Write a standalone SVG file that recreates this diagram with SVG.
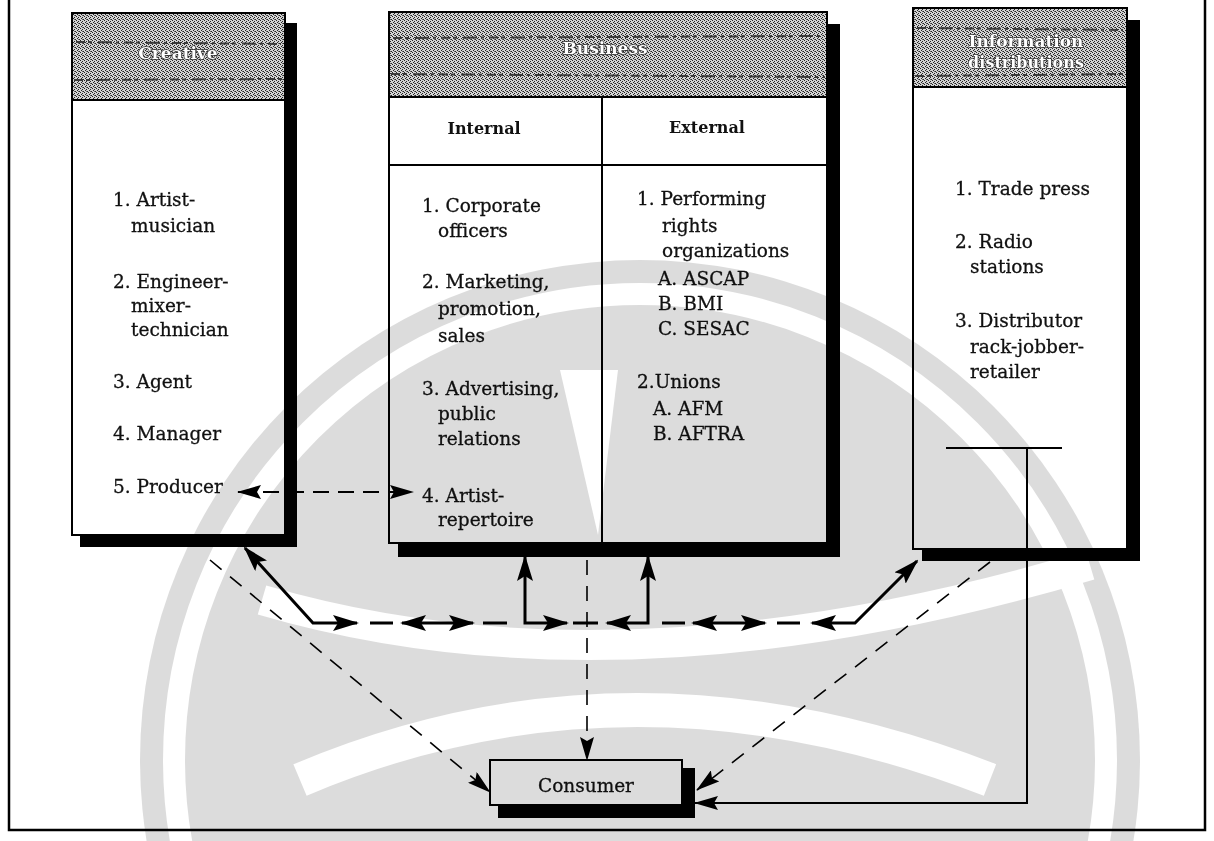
<svg xmlns="http://www.w3.org/2000/svg" width="1214" height="841" viewBox="0 0 1214 841">
<defs>
<pattern id="dith" width="4" height="4" patternUnits="userSpaceOnUse">
<rect width="4" height="4" fill="#d2d2d2"/>
<rect x="0" y="0" width="1" height="1" fill="#222"/>
<rect x="2" y="1" width="1" height="1" fill="#222"/>
<rect x="1" y="2" width="1" height="1" fill="#222"/>
<rect x="3" y="3" width="1" height="1" fill="#222"/>
<rect x="2" y="3" width="1" height="1" fill="#666"/>
</pattern>
<marker id="ah" viewBox="0 0 26 16" refX="24" refY="8" markerWidth="26" markerHeight="16" markerUnits="userSpaceOnUse" orient="auto-start-reverse">
<path d="M0,0 L26,8 L0,16 L5,8 Z" fill="#000" stroke="none"/>
</marker>
<marker id="ah2" viewBox="0 0 24 14" refX="23" refY="7" markerWidth="24" markerHeight="14" markerUnits="userSpaceOnUse" orient="auto-start-reverse">
<path d="M0,0 L24,7 L0,14 L4,7 Z" fill="#000" stroke="none"/>
</marker>
<mask id="wm">
<rect width="1214" height="841" fill="#000"/>
<circle cx="640" cy="760" r="500" fill="#fff"/>
<circle cx="640" cy="760" r="466" fill="none" stroke="#000" stroke-width="22"/>
<path d="M560,370 L618,370 L598,535 Z" fill="#000"/>
<path d="M262,600 Q620,705 1090,565" fill="none" stroke="#000" stroke-width="30"/>
<path d="M300,780 Q630,640 990,780" fill="none" stroke="#000" stroke-width="34"/>
</mask>
</defs>
<style>
.t{font-family:"DejaVu Serif","Liberation Serif",serif;font-size:18.5px;fill:#111;stroke:#111;stroke-width:0.3}
.hd{font-family:"DejaVu Serif","Liberation Serif",serif;font-weight:bold;font-size:17px;fill:#fff;stroke:#333;stroke-width:1.5;paint-order:stroke;text-anchor:middle}
.col{font-family:"DejaVu Serif","Liberation Serif",serif;font-weight:bold;font-size:16px;fill:#111;text-anchor:middle}
.box{fill:#fff;stroke:#000;stroke-width:2}
.sh{fill:#000}
.hdr{fill:url(#dith);stroke:#000;stroke-width:2}
.streak{fill:none;stroke:#3a3a3a;stroke-width:2;stroke-dasharray:9 3 4 6 14 4 3 5}
.ln{fill:none;stroke:#000;stroke-width:2}
.solid{fill:none;stroke:#000;stroke-width:3}
.bdash{fill:none;stroke:#000;stroke-width:3}
.pdash{fill:none;stroke:#000;stroke-width:2;stroke-dasharray:16 9}
.dash{fill:none;stroke:#000;stroke-width:1.6;stroke-dasharray:15 11}
</style>
<rect width="1214" height="841" fill="#fff"/>
<g id="frame">
<path d="M9,0 L9,830 L1205,830 L1205,0" fill="none" stroke="#000" stroke-width="2.5"/>
</g>

<g id="creative">
<rect class="sh" x="285" y="23" width="12" height="524"/>
<rect class="sh" x="80" y="535" width="217" height="12"/>
<rect class="box" x="72" y="13" width="213" height="522"/>
<rect class="hdr" x="72" y="13" width="213" height="87"/>
<path class="streak" d="M76,42 L281,44 M74,80 L283,79"/>
<text class="hd" x="178" y="59">Creative</text>
<text class="t" x="113" y="206">1. Artist-</text>
<text class="t" x="131" y="232">musician</text>
<text class="t" x="113" y="288">2. Engineer-</text>
<text class="t" x="131" y="312">mixer-</text>
<text class="t" x="131" y="336">technician</text>
<text class="t" x="113" y="388">3. Agent</text>
<text class="t" x="113" y="440">4. Manager</text>
<text class="t" x="113" y="493">5. Producer</text>
</g>

<g id="business">
<rect class="sh" x="827" y="24" width="13" height="533"/>
<rect class="sh" x="398" y="543" width="442" height="14"/>
<rect class="box" x="389" y="12" width="438" height="531"/>
<rect class="hdr" x="389" y="12" width="438" height="85"/>
<path class="streak" d="M393,38 L823,36 M391,74 L825,77"/>
<text class="hd" x="605" y="54">Business</text>
<path class="ln" d="M389,165 L827,165 M602,97 L602,543"/>
<text class="col" x="484" y="134">Internal</text>
<text class="col" x="707" y="133">External</text>
<text class="t" x="422" y="212">1. Corporate</text>
<text class="t" x="438" y="237">officers</text>
<text class="t" x="422" y="288">2. Marketing,</text>
<text class="t" x="438" y="315">promotion,</text>
<text class="t" x="438" y="342">sales</text>
<text class="t" x="422" y="395">3. Advertising,</text>
<text class="t" x="438" y="420">public</text>
<text class="t" x="438" y="445">relations</text>
<text class="t" x="422" y="502">4. Artist-</text>
<text class="t" x="438" y="526">repertoire</text>
<text class="t" x="637" y="205">1. Performing</text>
<text class="t" x="662" y="232">rights</text>
<text class="t" x="662" y="257">organizations</text>
<text class="t" x="658" y="285">A. ASCAP</text>
<text class="t" x="658" y="310">B. BMI</text>
<text class="t" x="658" y="335">C. SESAC</text>
<text class="t" x="637" y="388">2.Unions</text>
<text class="t" x="653" y="415">A. AFM</text>
<text class="t" x="653" y="440">B. AFTRA</text>
</g>

<g id="information">
<rect class="sh" x="1127" y="20" width="13" height="541"/>
<rect class="sh" x="922" y="549" width="218" height="12"/>
<rect class="box" x="913" y="8" width="214" height="541"/>
<rect class="hdr" x="913" y="8" width="214" height="79"/>
<path class="streak" d="M917,28 L1123,30 M915,76 L1125,74"/>
<text class="hd" x="1026" y="47">Information</text>
<text class="hd" x="1026" y="68" style="font-size:16px">distributions</text>
<text class="t" x="955" y="195">1. Trade press</text>
<text class="t" x="955" y="248">2. Radio</text>
<text class="t" x="970" y="273">stations</text>
<text class="t" x="955" y="327">3. Distributor</text>
<text class="t" x="970" y="353">rack-jobber-</text>
<text class="t" x="970" y="378">retailer</text>
</g>

<g id="consumer">
<rect class="sh" x="682" y="768" width="13" height="50"/>
<rect class="sh" x="498" y="805" width="197" height="13"/>
<rect class="box" x="490" y="760" width="192" height="45"/>
<text class="t" x="586" y="792" text-anchor="middle">Consumer</text>
</g>

<g id="connectors">
<path class="pdash" d="M238,492 L413,492" marker-start="url(#ah2)" marker-end="url(#ah2)"/>
<path class="solid" d="M245,548 L313,623 L357,623" marker-start="url(#ah)" marker-end="url(#ah)"/>
<path class="bdash" d="M370,623 L393,623 M483,623 L507,623 M573,623 L598,623 M662,623 L685,623 M777,623 L800,623"/>
<path class="solid" d="M402,623 L473,623" marker-start="url(#ah)" marker-end="url(#ah)"/>
<path class="solid" d="M525,557 L525,623 L567,623" marker-start="url(#ah)" marker-end="url(#ah)"/>
<path class="solid" d="M648,557 L648,623 L607,623" marker-start="url(#ah)" marker-end="url(#ah)"/>
<path class="solid" d="M693,623 L765,623" marker-start="url(#ah)" marker-end="url(#ah)"/>
<path class="solid" d="M812,623 L855,623 L917,561" marker-start="url(#ah)" marker-end="url(#ah)"/>
<path class="dash" d="M210,560 L490,792" marker-end="url(#ah2)"/>
<path class="dash" d="M587,560 L587,760" marker-end="url(#ah2)"/>
<path class="dash" d="M990,562 L697,790" marker-end="url(#ah2)"/>
<path class="ln" d="M946,448 L1062,448"/>
<path class="ln" d="M1027,448 L1027,803 L695,803" marker-end="url(#ah2)"/>
</g>

<g id="watermark" style="mix-blend-mode:multiply">
<rect width="1214" height="841" fill="#dcdcdc" mask="url(#wm)"/>
</g>
</svg>
